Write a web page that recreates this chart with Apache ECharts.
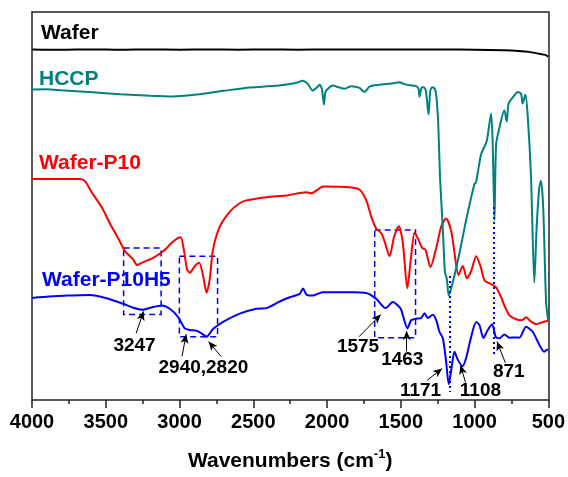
<!DOCTYPE html>
<html>
<head>
<meta charset="utf-8">
<script src="https://cdn.jsdelivr.net/npm/echarts@6/dist/echarts.min.js"></script>
<style>html,body{margin:0;padding:0;background:#fff}#c{width:568px;height:477px}</style>
</head>
<body>
<div id="c"></div>
<script>
// x: wavenumber (cm-1); y: vertical offset (larger = lower on the plot)
const xTicks = [4000, 3500, 3000, 2500, 2000, 1500, 1000, 500];
const seriesNames = ['Wafer', 'HCCP', 'Wafer-P10', 'Wafer-P10H5'];

const wafer = [[4000,50],[3800,50.4],[3600,50],[3400,50.4],[3200,50],[3000,50.3],[2800,50],[2600,50.3],[2400,50],[2200,50.3],[2000,50],[1800,50],[1600,50],[1400,50],[1200,50.1],[1000,50.3],[800,50.8],[700,51.5],[630,52.5],[560,54.5],[520,55.5],[500,57.3]];

const hccp = [[4000,90.7],[3900,90.5],[3800,91.5],[3607,93.3],[3400,95.5],[3200,97],[3045,97.7],[2900,96],[2700,92],[2524,88.7],[2355,87],[2253,85],[2200,83.5],[2165,81.7],[2130,85],[2098,91.7],[2065,88],[2050,86],[2035,90],[2021,106],[2012,94],[2005,91.7],[1962,86.7],[1920,88.5],[1881,90],[1836,87.3],[1780,89],[1746,93.3],[1712,87.7],[1650,86],[1560,84.5],[1509,83.3],[1480,85],[1454,86],[1396,87.3],[1380,90],[1373,98],[1360,89],[1346,88.3],[1330,92],[1312,116],[1300,92],[1287,88.3],[1270,90],[1260,96],[1250,115],[1245,130],[1234,180],[1216,230],[1201,276],[1193,280],[1186,285],[1175,300],[1148,286.7],[1102,256.7],[1057,223.3],[1001,186.7],[990,185],[956,156.7],[918,143.3],[888,115],[877,146.7],[865,223.3],[854,146.7],[832,130],[798,111.7],[782,123.3],[769,105],[730,96.7],[708,93.3],[685,95],[674,105],[656,96],[640,116.7],[617,180],[595,286.7],[579,230],[561,190],[549,183.3],[534,213],[515,306.7],[500,326]];

const waferP10 = [[4000,181.7],[3800,181.7],[3675,181.7],[3640,184],[3596,195],[3528,210],[3472,226.7],[3416,241.7],[3370,255],[3348,258.3],[3314,263.3],[3287,269],[3246,266],[3179,261.7],[3111,255],[3043,245],[2993,240.7],[2971,253.3],[2949,273.3],[2930,276.7],[2896,270],[2867,266.7],[2840,280],[2817,297],[2795,283.3],[2773,253.3],[2727,230],[2660,215],[2600,207],[2547,203.3],[2411,200],[2276,198.3],[2140,195],[2106,196],[2060,192],[2028,189.3],[1847,190],[1779,192.5],[1734,203.3],[1700,220],[1666,232],[1632,236.7],[1610,245],[1576,260],[1545,240],[1513,229.5],[1486,246.7],[1456,292.5],[1430,260],[1407,236],[1385,241.7],[1355,251.7],[1333,253.3],[1299,271],[1260,251.7],[1226,230],[1193,221.7],[1159,234],[1136,256.7],[1109,279],[1080,270],[1052,282.5],[1023,275],[989,260],[960,270],[931,285],[888,288.3],[854,291.7],[820,301.7],[798,310],[764,320],[719,324],[680,325],[651,322],[620,326],[583,329],[540,327],[515,326],[500,325]];

const waferP10H5 = [[4000,302.3],[3765,300],[3607,299.3],[3494,302.7],[3382,308.3],[3314,312.3],[3247,314.3],[3190,312],[3122,310],[3066,313.3],[3010,321.7],[2964,333.3],[2930,335],[2885,335.7],[2851,338.3],[2817,341.7],[2773,334],[2705,326.7],[2592,318.3],[2479,313.3],[2411,312.7],[2321,306],[2253,301.7],[2186,298.3],[2163,292.7],[2138,299.3],[2096,300],[2060,298],[2028,296.7],[1960,296.7],[1825,296.7],[1734,297.3],[1666,303.3],[1603,312.7],[1554,306.5],[1502,313],[1486,320],[1455,333.3],[1430,325],[1396,323.5],[1362,322.7],[1339,318],[1317,322.7],[1283,319.5],[1260,325],[1238,336.7],[1215,343.3],[1193,366.7],[1175,390],[1159,376.7],[1136,357],[1114,365],[1082,371.7],[1057,363.3],[1028,345],[989,326.7],[967,330],[940,343],[911,335],[881,329],[856,342],[832,343.3],[798,339.5],[764,342.7],[719,342.5],[696,342.7],[651,331.7],[606,336.7],[561,350],[527,357],[507,355],[500,355]];

// peak annotations: label, label position, arrow start, arrow tip
const peakLabels = ['3247', '2940,2820', '1575', '1463', '1171', '1108', '871'];
const peakLabelPos = [[3305,350.7],[2838,373.3],[1790,352.3],[1490,365],[1366,396.7],[960,396.7],[768,377.7]];
const arrows = [
  [[3294,338.3],[3244,316]],
  [[2983,361.7],[2955,339.3]],
  [[2719,361.7],[2803,346.7]],
  [[1783,341.7],[1636,319.3]],
  [[1460,356.7],[1460,336]],
  [[1321,386],[1220,374]],
  [[1061,388.3],[1095,370.7]],
  [[791,368.3],[848,346.7]]
];
const boxes = [[[3379,251.7],[3125,319.3]], [[3001,260],[2742,341.7]], [[1677,233.3],[1400,342.7]]];
const guides = [[[1171,280],[1171,398]], [[867,210],[867,360]]];

const FONT = '"Liberation Sans", Arial, sans-serif';
const chart = echarts.init(document.getElementById('c'), null, {renderer: 'canvas'});

const axisColor = '#222';
const lineSeries = (name, data, color) => ({
  name, type: 'line', data, showSymbol: false, symbol: 'none', smooth: 0.25,
  lineStyle: {color, width: 2}, itemStyle: {color}, z: 3, silent: true
});

const option = {
  animation: false,
  backgroundColor: '#fff',
  grid: {left: 32, right: 18, top: 12, bottom: 71},
  xAxis: [{
    type: 'value', min: 500, max: 4000, interval: 500, inverse: true,
    axisLine: {show: true, onZero: false, lineStyle: {color: axisColor, width: 1.5}},
    axisTick: {show: true, length: 8, lineStyle: {color: axisColor, width: 1.5}},
    minorTick: {show: true, splitNumber: 2, length: 4, lineStyle: {color: axisColor, width: 1.5}},
    splitLine: {show: false},
    axisLabel: {color: '#000', fontSize: 20, fontWeight: 'bold', fontFamily: FONT, margin: 12,
      formatter: v => (xTicks.indexOf(v) >= 0 ? String(v) : '')},
    name: '{a|Wavenumbers (cm}{s|-1}{a|)}',
    nameLocation: 'middle', nameGap: 48,
    nameTextStyle: {
      rich: {
        a: {fontSize: 21, fontWeight: 'bold', fontFamily: FONT, color: '#000', lineHeight: 24, verticalAlign: 'bottom'},
        s: {fontSize: 13, fontWeight: 'bold', fontFamily: FONT, color: '#000', lineHeight: 14, verticalAlign: 'top'}
      }
    }
  }, {
    type: 'value', min: 500, max: 4000, inverse: true, position: 'top',
    axisLine: {show: true, onZero: false, lineStyle: {color: axisColor, width: 1.5}},
    axisTick: {show: false}, axisLabel: {show: false}, splitLine: {show: false}
  }],
  yAxis: [{
    type: 'value', min: 12, max: 406, inverse: true,
    axisLine: {show: true, onZero: false, lineStyle: {color: axisColor, width: 1.5}},
    axisTick: {show: false}, axisLabel: {show: false}, splitLine: {show: false}
  }, {
    type: 'value', min: 12, max: 406, inverse: true, position: 'right',
    axisLine: {show: true, onZero: false, lineStyle: {color: axisColor, width: 1.5}},
    axisTick: {show: false}, axisLabel: {show: false}, splitLine: {show: false}
  }],
  series: [
    lineSeries(seriesNames[0], wafer, '#000000'),
    lineSeries(seriesNames[2], waferP10, '#ff0000'),
    Object.assign(lineSeries(seriesNames[3], waferP10H5, '#0000ff'), {
      markArea: {
        silent: true,
        itemStyle: {color: 'rgba(0,0,0,0)', borderColor: '#0000ff', borderWidth: 1.5, borderType: [6, 4]},
        data: boxes.map(b => [{coord: b[0]}, {coord: b[1]}])
      }
    }),
    lineSeries(seriesNames[1], hccp, '#008080'),
    {
      name: 'guides', type: 'line', data: [], silent: true,
      markLine: {
        silent: true, symbol: ['none', 'none'], animation: false,
        label: {show: false},
        lineStyle: {color: '#0000ff', width: 2, type: [2, 3]},
        data: guides.map(g => [{coord: g[0]}, {coord: g[1]}])
      }
    },
    {
      name: 'annotations', type: 'line', data: [], silent: true,
      markLine: {
        silent: true, symbol: ['none', 'arrow'], symbolSize: [6, 9], animation: false,
        label: {show: false},
        lineStyle: {color: '#000', width: 1, type: 'solid'},
        data: arrows.map(a => [{coord: a[0]}, {coord: a[1]}])
      },
      markPoint: {
        silent: true, symbol: 'rect', symbolSize: 1,
        itemStyle: {color: 'rgba(0,0,0,0)'},
        label: {show: true, position: 'inside', formatter: '{b}', color: '#000',
          fontSize: 19, fontWeight: 'bold', fontFamily: FONT},
        data: peakLabels.map((t, i) => ({name: t, coord: peakLabelPos[i]}))
      }
    }
  ],
  graphic: [
    {type: 'text', left: 41, top: 23, z: 10, style: {text: seriesNames[0], fill: '#000', font: 'bold 21px ' + FONT}},
    {type: 'text', left: 39, top: 69, z: 10, style: {text: seriesNames[1], fill: '#008080', font: 'bold 21px ' + FONT}},
    {type: 'text', left: 39, top: 153, z: 10, style: {text: seriesNames[2], fill: '#ff0000', font: 'bold 21px ' + FONT}},
    {type: 'text', left: 42, top: 270, z: 1, style: {text: seriesNames[3], fill: '#0000ff', font: 'bold 21px ' + FONT}}
  ]
};
chart.setOption(option);
</script>
</body>
</html>
